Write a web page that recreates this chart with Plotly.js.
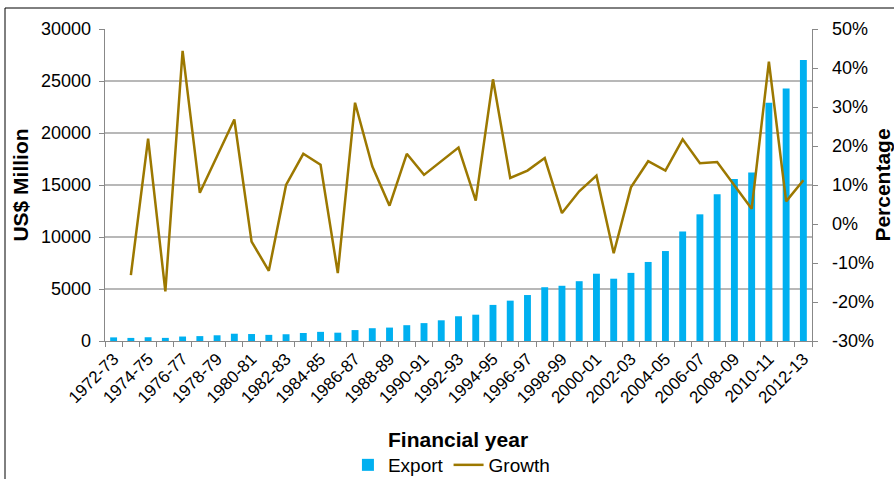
<!DOCTYPE html>
<html>
<head>
<meta charset="utf-8">
<script src="https://cdn.plot.ly/plotly-3.0.1.min.js"></script>
<style>html,body{margin:0;padding:0;background:#fff;}#chart{width:894px;height:479px;}</style>
</head>
<body>
<div id="chart"></div>
<script>
const years = ["1972-73","1973-74","1974-75","1975-76","1976-77","1977-78","1978-79","1979-80","1980-81","1981-82",
"1982-83","1983-84","1984-85","1985-86","1986-87","1987-88","1988-89","1989-90","1990-91","1991-92",
"1992-93","1993-94","1994-95","1995-96","1996-97","1997-98","1998-99","1999-00","2000-01","2001-02",
"2002-03","2003-04","2004-05","2005-06","2006-07","2007-08","2008-09","2009-10","2010-11","2011-12","2012-13"];
const exportValues = [348,297,362,300,430,470,550,700,670,590,
650,770,880,800,1050,1230,1290,1520,1720,1990,
2380,2530,3470,3880,4420,5170,5310,5750,6470,5990,
6550,7600,8650,10530,12180,14110,15570,16200,22920,24290,27020];
const growthYears = years.slice(1);
const growthValues = [-13.1,21.9,-17.3,44.4,8.0,17.4,26.8,-4.5,-12.0,10.0,
18.0,15.2,-12.6,31.1,14.8,4.7,18.0,12.6,16.1,19.6,
6.0,37.1,11.8,13.7,16.9,2.8,8.4,12.4,-7.5,9.4,
16.1,13.7,21.7,15.6,15.9,9.9,3.9,41.6,5.8,11.2];
const tickLabels = years.map((y,i)=> i%2===0 ? y : "");
const leftTicks = [0,5000,10000,15000,20000,25000,30000];
const leftTickText = ["0","5000","10000","15000","20000","25000","30000"];
const pctTicks = [-30,-20,-10,0,10,20,30,40,50];
const pctTickText = ["-30%","-20%","-10%","0%","10%","20%","30%","40%","50%"];

const font = "Liberation Sans, Arial, sans-serif";
const data = [
  {type:"bar", name:"Export", x:years, y:exportValues, marker:{color:"#00b0f0"}, yaxis:"y"},
  {type:"scatter", mode:"lines", name:"Growth", x:growthYears, y:growthValues,
   line:{color:"#9c7800", width:2.5}, yaxis:"y2"}
];
const layout = {
  width:894, height:479,
  margin:{l:105, r:82, t:29, b:138, autoexpand:false},
  paper_bgcolor:"#fff", plot_bgcolor:"#fff",
  font:{family:font, color:"#000", size:17},
  bargap:0.6,
  showlegend:true,
  legend:{orientation:"h", x:0.49, xanchor:"center", yref:"container", y:(479-465)/479, yanchor:"middle",
          font:{size:19, family:font}, tracegroupgap:0, itemwidth:30, borderwidth:0},
  xaxis:{type:"category", tickson:"boundaries", tickvals:years, ticktext:tickLabels,
         tickangle:-45, ticks:"outside", ticklen:5, tickcolor:"#888",
         showline:true, linecolor:"#888", linewidth:1.3, showgrid:false,
         tickfont:{size:17, family:font}, automargin:false},
  yaxis:{range:[0,30000], tickvals:leftTicks, ticktext:leftTickText, showgrid:true, gridcolor:"#b8b8b8", gridwidth:1.5,
         showline:true, linecolor:"#888", linewidth:1.3, ticks:"outside", ticklen:5, tickcolor:"#888",
         zeroline:false, tickfont:{size:18, family:font}, ticklabelstandoff:4,
         title:{text:"<b>US$ Million</b>", font:{size:21, family:font}, standoff:6}, automargin:false},
  yaxis2:{overlaying:"y", side:"right", range:[-30,50], tickvals:pctTicks, ticktext:pctTickText,
          showgrid:false, zeroline:false, showline:true, linecolor:"#888", linewidth:1.3,
          ticks:"outside", ticklen:5, tickcolor:"#888", tickfont:{size:18, family:font}, ticklabelstandoff:10,
          title:{text:"<b>Percentage</b>", font:{size:21, family:font}, standoff:4}, automargin:false},
  annotations:[{text:"<b>Financial year</b>", xref:"paper", yref:"paper", x:(458-105)/707, y:(341-439)/312,
                xanchor:"center", yanchor:"middle", showarrow:false, font:{size:21, family:font}}],
  shapes:[{type:"rect", xref:"paper", yref:"paper", x0:(5-105)/707, x1:(900-105)/707,
           y0:(341-8)/312, y1:(341-495)/312, line:{color:"#000", width:1}, layer:"below"}]
};
Plotly.newPlot("chart", data, layout, {staticPlot:true, displayModeBar:false});
</script>
</body>
</html>
